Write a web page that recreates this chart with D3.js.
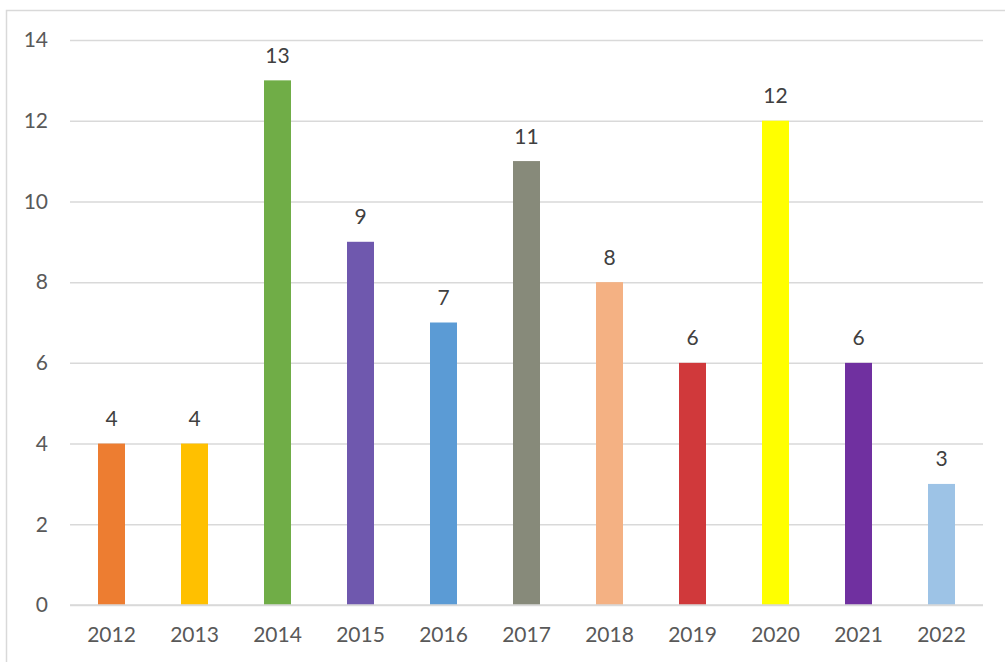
<!DOCTYPE html>
<html><head><meta charset="utf-8">
<script src="https://cdn.jsdelivr.net/npm/d3@7"></script>
<style>
html,body{margin:0;padding:0;background:#fff;overflow:hidden;}
svg{display:block;}
</style></head>
<body>
<svg id="c" width="1005" height="662"></svg>
<script>
const years = ["2012","2013","2014","2015","2016","2017","2018","2019","2020","2021","2022"];
const counts = [4,4,13,9,7,11,8,6,12,6,3];
const barColors = ["#ED7D31","#FFC000","#70AD47","#6F58AE","#5B9BD5","#878A7A","#F4B183","#D0393B","#FFFF00","#7030A0","#9DC3E6"];
const yTicks = [0,2,4,6,8,10,12,14];

(function(){
const svg = d3.select("#c");
const font = "Lato, 'Open Sans', sans-serif";

// chart border
svg.append("rect").attr("x",6.5).attr("y",10.5).attr("width",1010).attr("height",670)
  .attr("fill","none").attr("stroke","#d9d9d9").attr("stroke-width",1.5);

const pL = 70, pR = 983, pT = 40, pB = 605;
const x = d3.scaleBand().domain(years).range([pL,pR]).paddingInner(0.67).paddingOuter(0.335);
const y = d3.scaleLinear().domain([0,14]).range([pB,pT]);

// gridlines
const yAxis = d3.axisLeft(y).tickValues(yTicks).tickSize(-(pR-pL)).tickPadding(22);
const gy = svg.append("g").attr("transform",`translate(${pL},0)`).call(yAxis);
gy.select(".domain").remove();
gy.selectAll(".tick line").attr("stroke","#d9d9d9").attr("stroke-width",1.5);
gy.selectAll(".tick text").attr("fill","#595959").style("font-family",font).style("font-size","21px");

// bars
svg.append("g").selectAll("rect").data(years).join("rect")
  .attr("x",d=>x(d)+ (x.bandwidth()-27)/2)
  .attr("width",27)
  .attr("y",(d,i)=>y(counts[i]))
  .attr("height",(d,i)=>y(0)-y(counts[i]))
  .attr("fill",(d,i)=>barColors[i]);

// baseline on top
svg.append("line").attr("x1",pL).attr("x2",pR).attr("y1",y(0)).attr("y2",y(0))
  .attr("stroke","#d9d9d9").attr("stroke-width",1.5);

// x axis labels
const xAxis = d3.axisBottom(x).tickSize(0).tickPadding(22);
const gx = svg.append("g").attr("transform",`translate(0,${pB})`).call(xAxis);
gx.select(".domain").remove();
gx.selectAll(".tick text").attr("fill","#595959").style("font-family",font).style("font-size","21px");

// value labels
svg.append("g").selectAll("text").data(years).join("text")
  .attr("x",d=>x(d)+x.bandwidth()/2)
  .attr("y",(d,i)=>y(counts[i])-17.5)
  .attr("text-anchor","middle")
  .attr("fill","#404040")
  .style("font-family",font).style("font-size","21px")
  .text((d,i)=>counts[i]);
})();
</script>
</body></html>
